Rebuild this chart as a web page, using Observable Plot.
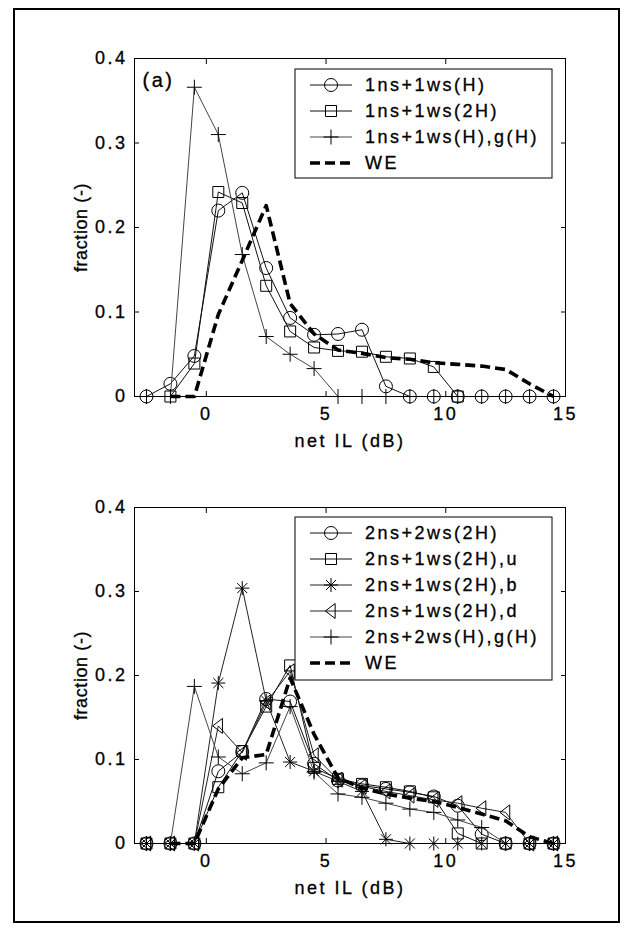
<!DOCTYPE html>
<html>
<head>
<meta charset="utf-8">
<script src="https://cdn.jsdelivr.net/npm/d3@7"></script>
<script src="https://cdn.jsdelivr.net/npm/@observablehq/plot@0.6"></script>
<style>
  body { margin: 0; background: #fff; }
  #fig { position: relative; width: 632px; height: 935px; background: #fff; }
  #fig svg.panel { position: absolute; left: 0; }
  #fig svg.panel text { stroke: #000; stroke-width: 0.3px; }
  #border { position: absolute; left: 13px; top: 8px; width: 607px; height: 915px;
            box-sizing: border-box; border: 2px solid #000; pointer-events: none; z-index: 10; }
</style>
</head>
<body>
<div id="fig"></div>
<script>
// ---------------- data ----------------
const xBins = [-2.5, -1.5, -0.5, 0.5, 1.5, 2.5, 3.5, 4.5, 5.5, 6.5, 7.5, 8.5, 9.5, 10.5, 11.5, 12.5, 13.5, 14.5];
const xTicks = [0, 5, 10, 15];
const xTickLabels = ["0", "5", "10", "15"];
const yTicks = [0, 0.1, 0.2, 0.3, 0.4];
const yTickLabels = ["0", "0.1", "0.2", "0.3", "0.4"];
const xLabel = "net IL (dB)";
const yLabel = "fraction (-)";
const tagA = "(a)";

// panel (a)
const namesA = ["1ns+1ws(H)", "1ns+1ws(2H)", "1ns+1ws(H),g(H)", "WE"];
const a_1ns1wsH   = [0, 0.015, 0.048, 0.220, 0.241, 0.152, 0.093, 0.073, 0.074, 0.079, 0.012, 0, 0, 0, 0, 0, 0, 0];
const a_1ns1ws2H  = [null, 0, 0.039, 0.242, 0.229, 0.131, 0.077, 0.058, 0.054, 0.053, 0.047, 0.045, 0.035, 0, null, null, null, null];
const a_1ns1wsHgH = [0, 0, 0.366, 0.310, 0.168, 0.071, 0.050, 0.033, 0, 0, 0, 0, 0, 0, 0, 0, 0, 0];
const a_WE        = [null, 0, 0, 0.097, 0.161, 0.226, 0.110, 0.074, 0.055, 0.051, 0.046, 0.044, 0.040, 0.038, 0.036, 0.032, 0.015, 0];

// panel (b)
const namesB = ["2ns+2ws(2H)", "2ns+1ws(2H),u", "2ns+1ws(2H),b", "2ns+1ws(2H),d", "2ns+2ws(H),g(H)", "WE"];
const b_2ns2ws2H  = [0, 0, 0, 0.086, 0.109, 0.172, 0.169, 0.095, 0.075, 0.069, 0.065, 0.061, 0.056, 0.045, 0.011, 0, 0, 0];
const b_2ns1ws2Hu = [0, 0, 0, 0.067, 0.110, 0.163, 0.212, 0.090, 0.077, 0.071, 0.067, 0.062, 0.055, 0.012, 0, 0, 0, 0];
const b_2ns1ws2Hb = [0, 0, 0, 0.191, 0.304, 0.170, 0.097, 0.086, 0.074, 0.062, 0.005, 0, 0, 0, 0, 0, 0, 0];
const b_2ns1ws2Hd = [0, 0, 0, 0.140, 0.108, 0.168, 0.205, 0.105, 0.076, 0.068, 0.062, 0.057, 0.052, 0.048, 0.042, 0.037, 0, 0];
const b_2ns2wsHgH = [0, 0, 0.187, 0.103, 0.083, 0.096, 0.163, 0.085, 0.059, 0.055, 0.048, 0.041, 0.037, 0.028, 0.019, 0, 0, 0];
const b_WE        = [null, 0, 0, 0.065, 0.102, 0.106, 0.197, 0.130, 0.078, 0.066, 0.059, 0.054, 0.050, 0.043, 0.035, 0.027, 0.008, 0];

// ---------------- marker shapes ----------------
const rad = s => Math.sqrt(s / Math.PI);
const symCircle = {draw(c, s) { const r = rad(s); c.moveTo(r, 0); c.arc(0, 0, r, 0, 2 * Math.PI); }};
const symSquare = {draw(c, s) { const r = rad(s); c.rect(-r, -r, 2 * r, 2 * r); }};
const symPlus = {draw(c, s) { const r = rad(s); c.moveTo(-r, 0); c.lineTo(r, 0); c.moveTo(0, -r); c.lineTo(0, r); }};
const symStar = {draw(c, s) { const r = rad(s), d = r * 0.72;
  c.moveTo(-r, 0); c.lineTo(r, 0); c.moveTo(0, -r); c.lineTo(0, r);
  c.moveTo(-d, -d); c.lineTo(d, d); c.moveTo(-d, d); c.lineTo(d, -d); }};
const symTriLeft = {draw(c, s) { const r = rad(s); c.moveTo(-r * 0.75, 0); c.lineTo(r * 0.55, -r); c.lineTo(r * 0.55, r); c.closePath(); }};

const toRows = vals => xBins.map((x, i) => ({x, y: vals[i]})).filter(d => d.y != null);

function seriesMarks(vals, sym, r, color) {
  const rows = toRows(vals);
  return [
    Plot.line(rows, {x: "x", y: "y", stroke: color, strokeWidth: 1}),
    Plot.dot(rows, {x: "x", y: "y", symbol: sym, r, fill: "none", stroke: "#000", strokeWidth: 1})
  ];
}
function weMark(vals) {
  return Plot.line(toRows(vals), {x: "x", y: "y", stroke: "#000", strokeWidth: 3.6, strokeDasharray: "10,5", strokeLinecap: "butt"});
}

const fontStyle = {fontFamily: "'Liberation Sans', Arial, Helvetica, sans-serif", fontSize: "18px",
                   letterSpacing: "2.5px", color: "#000", background: "transparent", overflow: "visible"};

function makePanel({series, we, marginTop, marginBottom, height, tag}) {
  const marks = [];
  series.forEach(s => marks.push(...seriesMarks(s.vals, s.sym, s.r, s.color)));
  marks.push(weMark(we));
  marks.push(
    Plot.frame({stroke: "#000"}),
    Plot.axisX({anchor: "bottom", ticks: xTicks, tickSize: -5, tickPadding: 16, label: null,
                tickFormat: d => xTickLabels[xTicks.indexOf(d)]}),
    Plot.axisX({anchor: "top", ticks: xTicks, tickSize: -5, label: null, tickFormat: () => ""}),
    Plot.axisY({anchor: "left", ticks: yTicks, tickSize: -5, tickPadding: 12, label: null,
                tickFormat: d => yTickLabels[yTicks.indexOf(d)]}),
    Plot.axisY({anchor: "right", ticks: yTicks, tickSize: -5, label: null, tickFormat: () => ""}),
    Plot.text([xLabel], {frameAnchor: "bottom", dy: 45, textAnchor: "middle", lineAnchor: "middle"}),
    Plot.text([yLabel], {frameAnchor: "left", dx: -48, rotate: -90, textAnchor: "middle", lineAnchor: "bottom"})
  );
  if (tag) marks.push(Plot.text([tag], {frameAnchor: "top-left", dx: 8, dy: 22, textAnchor: "start", lineAnchor: "middle", fontSize: 20}));
  const svg = Plot.plot({
    width: 632, height, marginLeft: 134, marginRight: 67, marginTop, marginBottom,
    x: {domain: [-3, 15]}, y: {domain: [0, 0.4]},
    style: fontStyle,
    marks
  });
  svg.classList.add("panel");
  d3.select(svg).selectAll("text").filter(function() { return this.textContent === yLabel; })
    .style("letter-spacing", "0.6px");
  return svg;
}

function addLegend(svg, box, entries) {
  const g = d3.select(svg).append("g").attr("transform", `translate(${box.x},${box.y})`);
  g.append("rect").attr("width", box.w).attr("height", box.h).attr("fill", "#fff").attr("stroke", "#000").attr("stroke-width", 1);
  entries.forEach((e, i) => {
    const row = g.append("g").attr("transform", `translate(0,${box.row0 + i * box.dy})`);
    row.append("line").attr("x1", 15).attr("x2", 57).attr("y1", 0).attr("y2", 0)
      .attr("stroke", e.dashed ? "#000" : e.color)
      .attr("stroke-width", e.dashed ? 3.6 : 1)
      .attr("stroke-dasharray", e.dashed ? "10,5" : null);
    if (e.sym) row.append("path").attr("transform", "translate(36,0)")
      .attr("d", d3.symbol(e.sym, Math.PI * e.r * e.r)())
      .attr("fill", "none").attr("stroke", "#000").attr("stroke-width", 1);
    row.append("text").attr("x", 70).attr("dy", "0.35em").attr("fill", "#000")
      .attr("text-anchor", "start").text(e.name);
  });
}

const fig = document.getElementById("fig");

// panel (a)
const styleA = [
  {vals: a_1ns1wsH, sym: symCircle, r: 6.5, color: "#111"},
  {vals: a_1ns1ws2H, sym: symSquare, r: 5.5, color: "#111"},
  {vals: a_1ns1wsHgH, sym: symPlus, r: 7.5, color: "#444"}
];
const svgA = makePanel({series: styleA, we: a_WE, marginTop: 58, marginBottom: 64, height: 460, tag: tagA});
svgA.style.top = "0px";
addLegend(svgA, {x: 295, y: 69, w: 257, h: 109, row0: 16, dy: 26},
  namesA.map((name, i) => i < styleA.length ? {name, sym: styleA[i].sym, r: styleA[i].r, color: styleA[i].color} : {name, dashed: true}));
fig.appendChild(svgA);

// panel (b)
const styleB = [
  {vals: b_2ns2ws2H, sym: symCircle, r: 6.5, color: "#111"},
  {vals: b_2ns1ws2Hu, sym: symSquare, r: 5.5, color: "#111"},
  {vals: b_2ns1ws2Hb, sym: symStar, r: 7, color: "#222"},
  {vals: b_2ns1ws2Hd, sym: symTriLeft, r: 7.5, color: "#222"},
  {vals: b_2ns2wsHgH, sym: symPlus, r: 7.5, color: "#444"}
];
const svgB = makePanel({series: styleB, we: b_WE, marginTop: 47, marginBottom: 87, height: 470, tag: null});
svgB.style.top = "460px";
addLegend(svgB, {x: 295, y: 57, w: 257, h: 163, row0: 16, dy: 26},
  namesB.map((name, i) => i < styleB.length ? {name, sym: styleB[i].sym, r: styleB[i].r, color: styleB[i].color} : {name, dashed: true}));
fig.appendChild(svgB);

const border = document.createElement("div");
border.id = "border";
fig.appendChild(border);
</script>
</body>
</html>
